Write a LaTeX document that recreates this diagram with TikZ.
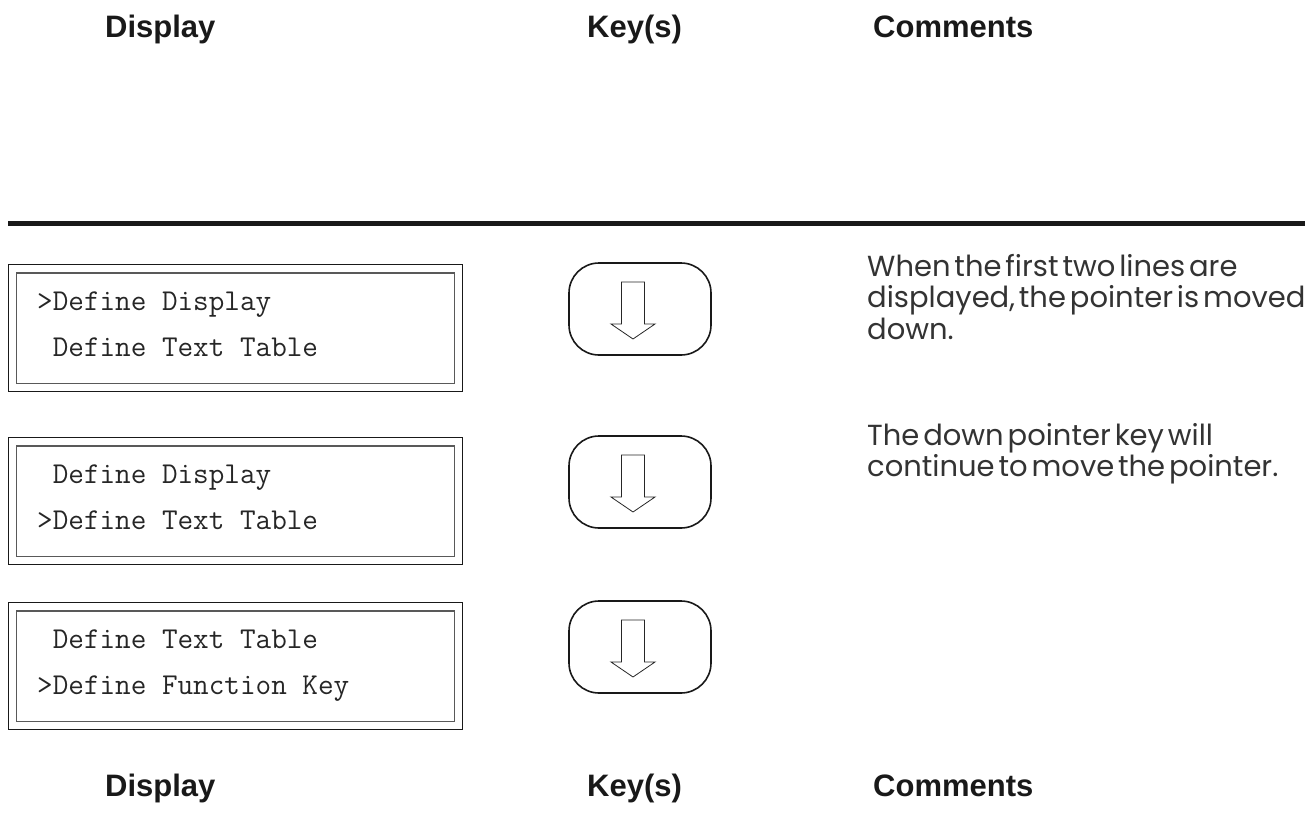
\documentclass[tikz,border=0pt]{standalone}
\usepackage{fontspec}
\setsansfont{Liberation Sans}
\newfontfamily\commentfont[WordSpace={0.5}]{Poppins}
\usetikzlibrary{calc}
\begin{document}
\begin{tikzpicture}[x=1pt,y=-1pt,
  header/.style={anchor=base west,font=\sffamily\bfseries\fontsize{31}{31}\selectfont,inner sep=0pt,text=black!90},
  outerbox/.style={draw=black!90,line width=1.3pt,minimum width=454pt,minimum height=127pt,inner sep=0pt,anchor=north west},
  innerline/.style={draw=black!65,line width=1.5pt},
  lcd/.style={anchor=base west,font=\ttfamily\fontsize{30.3}{30}\selectfont,inner sep=0pt,text=black!85},
  keybox/.style={draw=black!90,line width=1.6pt,rounded corners=30pt,minimum width=142pt,minimum height=92pt,inner sep=0pt},
  arrowline/.style={draw=black!85,line width=0.8pt,line join=miter},
  comment/.style={anchor=north west,align=left,inner sep=0pt,font=\commentfont\fontsize{29}{31.5}\selectfont,text=black!80},
]
\useasboundingbox (0,0) rectangle (1305,813);

% column headings
\node[header] (h1) at (105,38) {Display};
\node[header] (h2) at (587,38) {Key(s)};
\node[header] (h3) at (873,38) {Comments};

% heavy rule
\coordinate (rl) at (8,223.5);
\coordinate (rr) at (1305,223.5);
\draw[line width=5pt,black!90] (rl) -- (rr);

% display panels
\foreach \n/\top/\la/\lb in {1/264/{>Define Display}/{\hphantom{>}Define Text Table},
                           2/437/{\hphantom{>}Define Display}/{>Define Text Table},
                           3/602/{\hphantom{>}Define Text Table}/{>Define Function Key}}{
  \node[outerbox] (d\n) at (8,\top) {};
  \draw[innerline] ($(d\n.north west)+(8.5,9)$) rectangle ($(d\n.south east)+(-9,-9)$);
  \node[lcd] (d\n a) at (37,\top+46) {\la};
  \node[lcd] (d\n b) at (37,\top+92) {\lb};
}

% down-pointer keys
\foreach \n/\cy in {1/309,2/482,3/647}{
  \node[keybox] (k\n) at (640,\cy) {};
  \draw[arrowline]
    ($(k\n.center)+(-18.5,-27)$) -- ($(k\n.center)+(-18.5,15)$) -- ($(k\n.center)+(-29,15)$)
    -- ($(k\n.center)+(-7,30)$) -- ($(k\n.center)+(15,15)$) -- ($(k\n.center)+(4.5,15)$)
    -- ($(k\n.center)+(4.5,-27)$) -- cycle;
}

% comments
\node[comment] (c1) at (867,254) {When the first two lines are\\displayed, the pointer is moved\\down.};
\node[comment] (c2) at (867,423) {The down pointer key will\\continue to move the pointer.};

% repeated headings
\node[header] (f1) at (105,796) {Display};
\node[header] (f2) at (587,796) {Key(s)};
\node[header] (f3) at (873,796) {Comments};
\end{tikzpicture}
\end{document}
